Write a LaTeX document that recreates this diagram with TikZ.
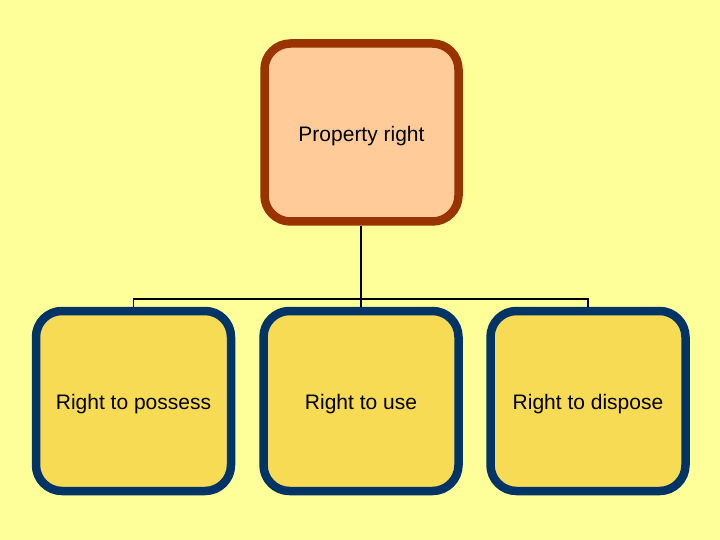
\documentclass[tikz,border=0pt]{standalone}
\usepackage{fontspec}
\setmainfont{Liberation Sans}
\definecolor{bg}{HTML}{FFFF99}
\definecolor{topfill}{HTML}{FFCC99}
\definecolor{topdraw}{HTML}{993300}
\definecolor{botfill}{HTML}{F7DB55}
\definecolor{botdraw}{HTML}{003366}
\begin{document}
\begin{tikzpicture}[x=1pt,y=-1pt,
  box/.style={rounded corners=26pt, line width=8.5pt, inner sep=0pt, text depth=0pt, font=\fontsize{21}{24}\selectfont},
  topbox/.style={box, draw=topdraw, fill=topfill, minimum width=194pt, minimum height=178pt, text height=19pt},
  botbox/.style={box, draw=botdraw, fill=botfill, minimum width=195pt, minimum height=180pt, text height=16pt},
  conn/.style={line width=1.8pt, black}]
\fill[bg] (0,0) rectangle (720,540);
\useasboundingbox (0,0) rectangle (720,540);
\node[topbox] (top) at (361.5,132.5) {Property right};
\node[botbox] (a) at (133.5,401) {Right to possess};
\node[botbox] (b) at (361,401) {Right to use};
\node[botbox] (c) at (588,401) {Right to dispose};
\coordinate (j) at (361,299);
\coordinate (ja) at (133.5,299);
\coordinate (jc) at (588,299);
\draw[conn] (top.south -| j) -- (j);
\draw[conn] (a.north) -- (ja) -- (jc) -- (c.north);
\draw[conn] (j) -- (b.north);
\end{tikzpicture}
\end{document}
